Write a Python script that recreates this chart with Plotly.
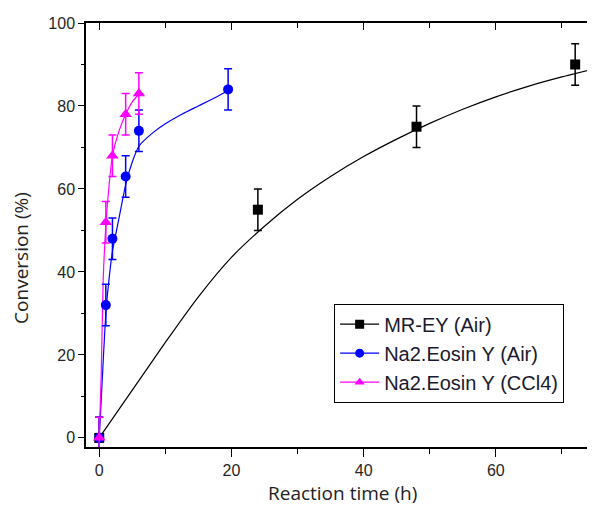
import plotly.graph_objects as go

# ---- data ----
mr_t = [0, 24, 48, 72]
mr_y = [0, 55, 75, 90]
mr_err = [5, 5, 5, 5]

na_air_t = [0, 1, 2, 4, 6, 19.5]
na_air_y = [0, 32, 48, 63, 74, 84]
na_air_err = [5, 5, 5, 5, 5, 5]

na_ccl4_t = [0, 1, 2, 4, 6]
na_ccl4_y = [0, 52, 68, 78, 83]
na_ccl4_err = [5, 5, 5, 5, 5]

# fitted curves
mr_fit_t = [0, 5, 10, 15, 20, 25, 30, 35, 40, 45, 50, 55, 60, 65, 70, 75]
mr_fit_y = [0, 11.5, 23, 34, 43.5, 51, 57.5, 63, 67.8, 72, 75.8, 79.2, 82.2, 84.8, 87, 89]

na_air_fit_t = [0, 0.3, 0.65, 1, 1.4, 2, 3, 4, 5, 6, 8, 10, 12.5, 15, 17.5, 19.6]
na_air_fit_y = [0, 9, 20, 30, 37, 45, 53, 61, 66.5, 70.3, 73.4, 75.7, 78, 80, 82, 83.8]

na_ccl4_fit_t = [0, 0.3, 0.6, 1, 1.5, 2, 3, 4, 5, 6.1]
na_ccl4_fit_y = [0, 15, 38, 51, 61, 68, 74, 78, 81, 83]

names = ["MR-EY (Air)", "Na2.Eosin Y (Air)", "Na2.Eosin Y (CCl4)"]
colors = ["#000000", "#0000ff", "#ff00ff"]
symbols = ["square", "circle", "triangle-up"]

fig = go.Figure()

fits = [(mr_fit_t, mr_fit_y), (na_air_fit_t, na_air_fit_y), (na_ccl4_fit_t, na_ccl4_fit_y)]
datas = [(mr_t, mr_y, mr_err), (na_air_t, na_air_y, na_air_err), (na_ccl4_t, na_ccl4_y, na_ccl4_err)]

for (ft, fy), c in zip(fits, colors):
    fig.add_trace(go.Scatter(x=ft, y=fy, mode="lines",
                             line=dict(color=c, width=1.2, shape="spline", smoothing=0.6),
                             showlegend=False, hoverinfo="skip"))

for (t, y, e), c, s in zip(datas, colors, symbols):
    fig.add_trace(go.Scatter(x=t, y=y, mode="markers",
                             marker=dict(color=c, symbol=s, size=10 if s != "triangle-up" else 11),
                             error_y=dict(type="data", array=e, color=c, thickness=1.5, width=4),
                             showlegend=False))

# legend entries
for n, c, s in zip(names, colors, symbols):
    fig.add_trace(go.Scatter(x=[None], y=[None], mode="lines+markers", name=n,
                             line=dict(color=c, width=1.2),
                             marker=dict(color=c, symbol=s, size=9)))

# dummy trace for top axis
fig.add_trace(go.Scatter(x=[None], y=[None], xaxis="x2", showlegend=False))

tickfont = dict(family="Liberation Sans, Arial", size=16, color="#262626")

fig.update_layout(
    width=587, height=498,
    margin=dict(l=78, r=0, t=15, b=59),
    plot_bgcolor="white", paper_bgcolor="white",
    xaxis=dict(range=[-2, 75], tickvals=[0, 20, 40, 60], ticks="outside", ticklen=8, tickwidth=1.3,
               tickcolor="black", showline=True, linecolor="black", linewidth=1.5,
               showgrid=False, zeroline=False, tickfont=tickfont,
               minor=dict(tickvals=[10, 30, 50, 70], ticks="outside", ticklen=5, tickwidth=1.3,
                          tickcolor="black", showgrid=False)),
    xaxis2=dict(range=[-2, 75], overlaying="x", side="top", anchor="y", tickvals=[0, 20, 40, 60],
                ticks="inside", ticklen=7, tickwidth=1.3, tickcolor="black", showticklabels=False,
                showline=True, linecolor="black", linewidth=1.5, showgrid=False, zeroline=False,
                minor=dict(tickvals=[10, 30, 50, 70], ticks="inside", ticklen=5, tickwidth=1.3,
                           tickcolor="black", showgrid=False)),
    yaxis=dict(range=[-2.2, 100], tickvals=[0, 20, 40, 60, 80, 100], ticks="outside", ticklen=6,
               tickwidth=1.3, tickcolor="black", showline=True, linecolor="black", linewidth=1.5,
               showgrid=False, zeroline=False, tickfont=tickfont,
               minor=dict(tickvals=[10, 30, 50, 70, 90], ticks="outside", ticklen=3, tickwidth=1.3,
                          tickcolor="black", showgrid=False)),
    legend=dict(x=0.4875, y=0.338, xanchor="left", yanchor="top", bordercolor="black", borderwidth=1,
                bgcolor="white", font=dict(family="Liberation Sans, Arial", size=20, color="#1a1a2e"),
                tracegroupgap=0, itemwidth=39),
    annotations=[
        dict(text="Reaction time (h)", xref="paper", yref="paper", x=0.504, y=0, yshift=-46,
             xanchor="center", yanchor="middle", showarrow=False,
             font=dict(family="Open Sans", size=19, color="#222")),
        dict(text="Conversion (%)", xref="paper", yref="paper", x=0, xshift=-65, y=0.446,
             xanchor="center", yanchor="middle", textangle=-90, showarrow=False,
             font=dict(family="Open Sans", size=19, color="#222")),
    ],
)

fig.write_html("out.html")
